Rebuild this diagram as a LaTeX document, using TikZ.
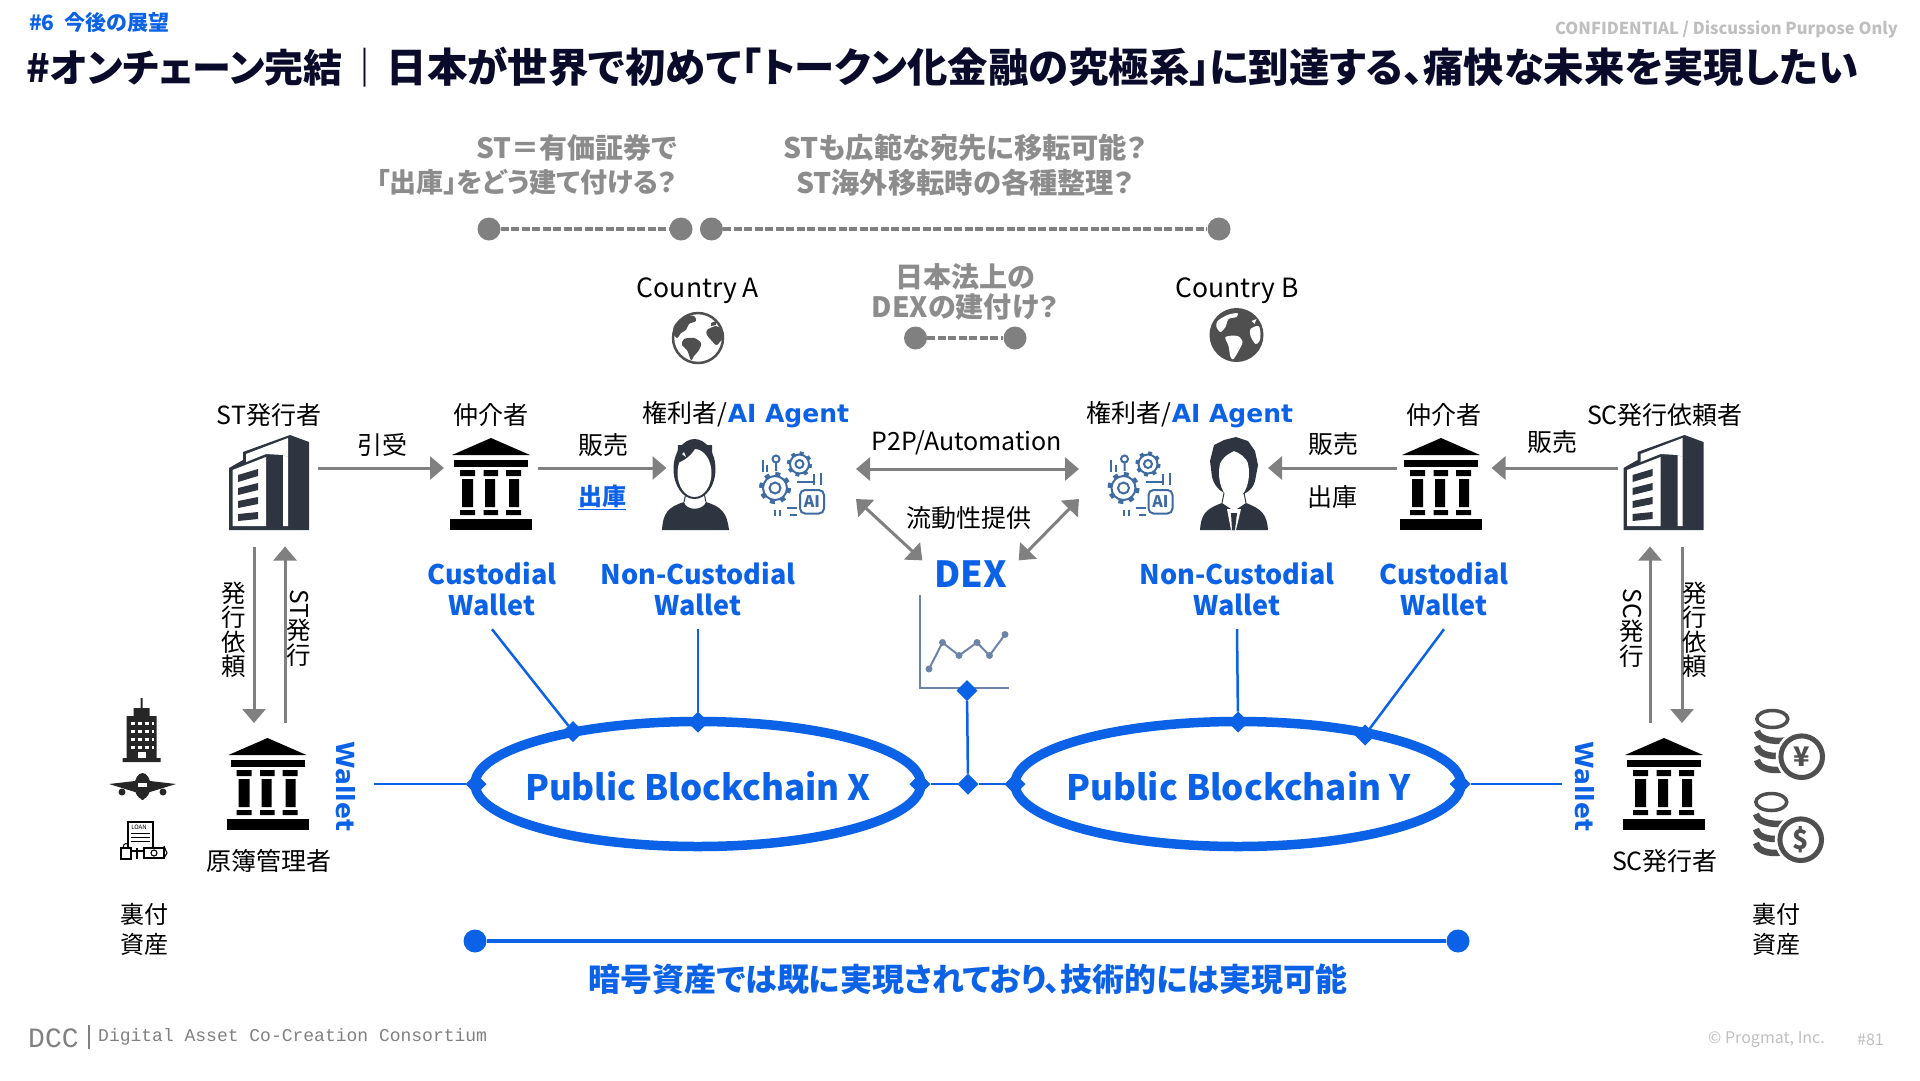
\documentclass[tikz,border=0pt]{standalone}
\usepackage{fontspec}
\usepackage{graphicx}
\setmainfont{Noto Sans CJK JP}[RawFeature=+palt]
\newfontfamily\widefont{DejaVu Sans}
\newfontfamily\footfont{Liberation Mono}
\usetikzlibrary{arrows.meta,positioning,shapes.geometric}
\definecolor{dcblue}{HTML}{0B62E6}
\definecolor{dcgrey}{HTML}{808080}
\definecolor{dcask}{HTML}{8C8C8C}
\definecolor{dcink}{HTML}{2E3540}
\definecolor{dcnavy}{HTML}{0A0A2A}
\definecolor{dcgear}{HTML}{3F6BA3}
\definecolor{dcaxis}{HTML}{6C84A8}
\definecolor{dccoin}{HTML}{4F4F4F}
\newcommand{\pxfont}[1]{\fontsize{#1}{\dimexpr#1pt*12/10\relax}\selectfont}

\begin{document}
\begin{tikzpicture}[
        x=1pt, y=-1pt,
        lbl/.style={inner sep=0, align=center, font=\pxfont{25}},
        stack/.style={lbl, font=\fontsize{24.5}{24.5}\selectfont},
        ask/.style={lbl, text=dcask, font=\pxfont{28.3}\bfseries},
        wlt/.style={lbl, text=dcblue, font=\fontsize{27}{31}\selectfont\bfseries, minimum height=80pt},
        sidewlt/.style={lbl, text=dcblue, rotate=-90, font=\pxfont{25}\widefont\bfseries},
        port/.style={inner sep=0, outer sep=0, minimum height=20pt},
        chain/.style={ellipse, draw=dcblue, line width=9.5pt, inner sep=0, minimum width=446pt,
                      minimum height=125pt},
        chaintext/.style={lbl, text=dcblue, font=\pxfont{35}\bfseries},
        dm/.style={diamond, fill=dcblue, inner sep=0, outer sep=0, minimum size=21pt},
        dot/.style={circle, fill=dcgrey, inner sep=0, minimum size=23pt},
        bluedot/.style={dot, fill=dcblue},
        arr/.style={-{Triangle[length=14pt,width=23pt]}, dcgrey, line width=3pt},
        darr/.style={{Triangle[length=14pt,width=23pt]}-{Triangle[length=14pt,width=23pt]}, dcgrey, line width=3pt},
        wire/.style={dcblue, line width=2.5pt},
        gap/.style={dcgrey, line width=3.5pt, dash pattern=on 8pt off 2.5pt},
        pics/bankicon/.style={code={
            \fill[black] (41,0) -- (2,17) -- (80,17) -- cycle;
            \fill[black] (4,22) rectangle (78,29);
            \fill[black] (10,32) rectangle (25,38) (33.5,32) rectangle (48,38) (56,32) rectangle (71,38);
            \fill[black] (12,41) rectangle (23,69) (35,41) rectangle (45,69) (59,41) rectangle (69,69);
            \fill[black] (10,72) rectangle (25,77) (33.5,72) rectangle (48,77) (56,72) rectangle (71,77);
            \fill[black] (0,81) rectangle (82,92);
        }},
        pics/bldicon/.style={code={
            \fill[dcink] (14,25) -- (14,17) -- (61,0) -- (80,7) -- (80,95) -- (0,95) -- (0,33) -- cycle;
            \fill[white] (17,19) -- (59,3) -- (59,22) -- (54,20) -- (37,19) -- (17,27) -- cycle;
            \fill[white] (3.5,35) -- (37,22) -- (37,91) -- (3.5,91) -- cycle;
            \fill[white] (54,20) -- (59,22) -- (59,91) -- (54,91) -- cycle;
            \fill[dcink] (9,40) -- (29,34) -- (29,41) -- (9,47) -- cycle;
            \fill[dcink] (9,53) -- (29,48) -- (29,55) -- (9,60) -- cycle;
            \fill[dcink] (9,66) -- (29,62) -- (29,69) -- (9,73) -- cycle;
            \fill[dcink] (9,79) -- (29,77) -- (29,84) -- (9,86) -- cycle;
        }},
        pics/womanicon/.style={code={
            \fill[dcink] (0,91) .. controls (1,74) and (6,68) .. (22,63) .. controls (24,72) and (41,72) .. (44,63)
                .. controls (60,68) and (65,74) .. (67,91) -- cycle;
            \draw[dcink, line width=1pt] (24,54) -- (22,63) (42,54) -- (44,63);
            \fill[dcink] (32.5,30) ellipse [x radius=21pt, y radius=30pt];
            \fill[white] (32.5,34) ellipse [x radius=17pt, y radius=24pt];
            \fill[dcink] (15,24) .. controls (22,22) and (30,16) .. (34,8) .. controls (42,12) and (48,18) .. (50,26)
                -- (50,6) -- (16,6) -- cycle;
            \fill[white] (20,15) -- (24,18) -- (22,13) -- cycle;
        }},
        pics/manicon/.style={code={
            \fill[dcink] (0,93) .. controls (1,78) and (5,72) .. (22,66) -- (34,74) -- (46,66)
                .. controls (62,72) and (67,78) .. (68,93) -- cycle;
            \fill[white] (27,72) -- (41,72) -- (36,93) -- (31,93) -- cycle;
            \fill[dcink] (31,76) -- (37,76) -- (35,93) -- (32,93) -- cycle;
            \draw[dcink, line width=1pt] (24,56) -- (22,66) (44,56) -- (46,66);
            \fill[dcink] (12,40) -- (10,24) -- (14,8) -- (24,3) -- (36,0) -- (48,4) -- (55,14) -- (58,28) -- (55,44)
                .. controls (50,64) and (18,64) .. (12,40) -- cycle;
            \fill[white] (34,36) ellipse [x radius=15pt, y radius=26pt];
            \fill[dcink] (19,28) .. controls (24,18) and (30,16) .. (34,14) .. controls (40,16) and (46,20) .. (49,28)
                -- (50,8) -- (18,8) -- cycle;
        }},
        pics/gearicon/.style={code={
            \draw[dcgear, line width=4pt, dash pattern=on 5pt off 6pt] (15,38) circle (14);
            \draw[dcgear, line width=2pt] (15,38) circle (12) (15,38) circle (5.5);
            \draw[dcgear, line width=3.5pt, dash pattern=on 4pt off 4.6pt] (39.5,14) circle (11);
            \draw[dcgear, line width=2pt] (39.5,14) circle (9.5) (39.5,14) circle (4);
            \draw[dcgear, line width=2pt] (16,9) circle (3.5) (16,13) -- (16,21);
            \draw[dcgear, line width=2pt] (2.7,10) -- (2.7,22) (7.3,15) -- (7.3,22);
            \draw[dcgear, line width=2pt, rounded corners=5pt] (40,40) rectangle (64,63.5);
            \node[inner sep=0, text=dcgear, font=\pxfont{16}\bfseries] (-ai) at (52,52) {AI};
            \draw[dcgear, line width=2pt] (37,32) -- (53,32) (54,24) -- (54,35) (61,23) -- (61,35);
            \draw[dcgear, line width=2pt] (15,60) -- (15,66) (20,60) -- (20,66) (27,58) -- (37,58) (30,65) -- (37,65);
        }},
        pics/lightglobe/.style={code={
            \draw[dccoin, line width=2.5pt, fill=white] (0,0) circle (25);
            \fill[dccoin] plot[smooth cycle, tension=0.5] coordinates {(-19,-18) (-12,-22) (-4,-22) (-2,-17) (-9,-14)
                (-12,-8) (-17,-5) (-21,0) (-25,-5) (-24,-12)};
            \fill[dccoin] plot[smooth cycle, tension=0.5] coordinates {(-14,1) (-4,0) (3,5) (1,12) (-4,18) (-7,22) (-11,12) (-16,7)};
            \fill[dccoin] plot[smooth cycle, tension=0.5] coordinates {(9,-8) (18,-12) (24,-8) (26,-2) (21,5) (18,7) (13,2) (9,-3)};
            \fill[dccoin] (13,-15) -- (18,-17) -- (18,-13) -- (13,-12) -- cycle;
        }},
        pics/darkglobe/.style={code={
            \fill[dccoin] (0,0) circle (27);
            \fill[white] plot[smooth cycle, tension=0.5] coordinates {(-19,-14) (-9,-20) (1,-22) (0,-18) (-8,-16) (-11,-8) (-16,-3) (-20,-8)};
            \fill[white] plot[smooth cycle, tension=0.5] coordinates {(-11,2) (1,1) (6,7) (2,16) (-3,24) (-6,22) (-8,11)};
            \fill[white] plot[smooth cycle, tension=0.5] coordinates {(14,-6) (22,-9) (24,-1) (23,6) (19,9) (14,1)};
            \fill[white] (15,-14) -- (20,-16) -- (18,-11) -- cycle;
        }},
        pics/coinicon/.style={code={
            \draw[dccoin, line width=3.5pt, fill=white] (17.3,13) ellipse [x radius=15.5pt, y radius=8.5pt];
            \draw[dccoin, line width=6.5pt] (2,25) .. controls (4,35) and (24,37) .. (38,33);
            \draw[dccoin, line width=6.5pt] (2,40) .. controls (4,50) and (20,52) .. (34,48);
            \draw[dccoin, line width=6.5pt] (2,54) .. controls (4,64) and (20,66) .. (34,62);
            \fill[white] (46.7,50.7) circle (26);
            \draw[dccoin, line width=5pt, fill=white] (46.7,50.7) circle (20.8);
            \node[inner sep=0, text=dccoin, font=\pxfont{27}\bfseries] (-sym) at (46.7,50.7) {#1};
        }},
        pics/officeicon/.style={code={
            \fill[black!85] (18,0) rectangle (20,10) (11,10) rectangle (27,18) (4,18) rectangle (34,60) (0,60) rectangle (38,64);
            \draw[white, line width=3pt, dash pattern=on 4pt off 3pt] (8,25) -- (31,25) (8,33) -- (31,33) (8,41) -- (31,41) (8,49) -- (31,49);
            \fill[white] (15,54) rectangle (23,60);
        }},
        pics/planeicon/.style={code={
            \fill[black!85] (0,11) -- (26,8) -- (41,8) -- (67,11) -- (41,19) -- (26,19) -- cycle;
            \fill[black!85] (33.5,13) ellipse [x radius=8pt, y radius=13pt];
            \fill[black!85] (13,19) circle (3.5) (54,19) circle (3.5) (33.5,25) circle (2);
            \fill[white] (29,10) rectangle (38,14);
        }},
        pics/loanicon/.style={code={
            \draw[black, line width=1.1pt, fill=white] (8,1) rectangle (33,30);
            \node[inner sep=0, font=\pxfont{6}] (-doc) at (19,6) {LOAN};
            \draw[black, line width=1pt] (11,12) -- (30,12) (11,16) -- (30,16) (11,20) -- (30,20);
            \draw[black, line width=1.1pt, fill=white] (1,27) rectangle (11,38) (17,27) -- (17,38) (24,27) rectangle (44,37);
            \draw[black, line width=1pt] (3,27) .. controls (3,21) and (9,21) .. (9,27);
            \draw[black, line width=1.1pt] (34,32) circle (3) (44,25) -- (47,32) -- (44,37);
        }},
    ]
    \useasboundingbox (0,0) rectangle (1920,1080);

    \node[lbl, anchor=west, text=dcblue, font=\pxfont{21}\bfseries] (section) at (29,22) {\#6\ \ 今後の展望};
    \node[lbl, anchor=east, text=black!25, font=\pxfont{16.5}\bfseries] (confid) at (1898,29) {CONFIDENTIAL / Discussion Purpose Only};
    \node[lbl, anchor=west, text=dcnavy, font=\pxfont{39}\bfseries] (headline) at (26,67)
        {\#オンチェーン完結\kern2.5pt｜\kern2.5pt\pxfont{40.4}日本が世界で初めて「トークン化金融の究極系」に到達する、痛快な未来を実現したい};

    \node[ask, anchor=east, font=\pxfont{28}\bfseries] (askA) at (677,148) {ST＝有価証券で};
    \node[ask, anchor=east, font=\pxfont{27}\bfseries] (askB) at (677,182.5) {「出庫」をどう建て付ける？};
    \node[ask] (askC) at (965,148) {STも広範な宛先に移転可能？};
    \node[ask] (askD) at (965,182.5) {ST海外移転時の各種整理？};
    \node[ask, font=\fontsize{28}{30}\selectfont\bfseries] (askE) at (965,292) {日本法上の\\DEXの建付け？};

    \node[dot] (gapA) at (489,229) {};
    \node[dot] (gapB) at (681,229) {};
    \node[dot, right=7pt of gapB] (gapC) {};
    \node[dot] (gapD) at (1219,229) {};
    \node[dot] (gapE) at (915.5,338) {};
    \node[dot] (gapF) at (1015,338) {};
    \draw[gap] (gapA) -- (gapB);
    \draw[gap] (gapC) -- (gapD);
    \draw[gap] (gapE) -- (gapF);

    \node[lbl, font=\pxfont{26.5}] (countryA) at (698,291) {Country A};
    \node[lbl, font=\pxfont{26.5}] (countryB) at (1237,291) {Country B};
    \pic at (698,338) {lightglobe};
    \pic at (1236.5,335) {darkglobe};

    \node[lbl] (tST) at (269,415) {ST発行者};
    \node[lbl] (tBrokerA) at (491,415) {仲介者};
    \node[lbl] (tHolderA) at (746,415) {権利者/{\widefont\bfseries\color{dcblue}AI Agent}};
    \node[lbl] (tHolderB) at (1190,415) {権利者/{\widefont\bfseries\color{dcblue}AI Agent}};
    \node[lbl] (tBrokerB) at (1444,415) {仲介者};
    \node[lbl] (tSC) at (1665,415) {SC発行依頼者};

    \node[port, minimum width=97pt, minimum height=157pt] (bldA) at (269,468) {};
    \node[port, minimum width=94pt] (bankA) at (491,468) {};
    \node[port, minimum width=60pt] (persA) at (696.5,468) {};
    \node[port, minimum width=126pt] (agentA) at (793,469) {};
    \node[port, minimum width=124pt] (agentB) at (1141,469) {};
    \node[port, minimum width=68pt] (persB) at (1234,468) {};
    \node[port, minimum width=95pt] (bankB) at (1444,468) {};
    \node[port, minimum width=94pt, minimum height=157pt] (bldB) at (1665,468) {};
    \node[port, minimum width=209pt, minimum height=122pt] (bankC) at (269,784) {};
    \node[port, minimum width=206pt, minimum height=122pt] (bankD) at (1665,784) {};

    \pic at (229,435) {bldicon};
    \pic at (450,438) {bankicon};
    \pic at (662,439) {womanicon};
    \pic (gearsA) at (760,450) {gearicon};
    \pic (gearsB) at (1108.5,450) {gearicon};
    \pic at (1200,437) {manicon};
    \pic at (1400,438) {bankicon};
    \pic at (1623.5,435) {bldicon};
    \pic at (226.5,738) {bankicon};
    \pic at (1623,738) {bankicon};

    \draw[arr] (bldA) -- (bankA);
    \draw[arr] (bankA) -- (persA);
    \draw[arr] (bankB) -- (persB);
    \draw[arr] (bldB) -- (bankB);
    \draw[darr] (agentA) -- (agentB);
    \draw[arr] ([xshift=-15pt]bldA.south) -- ([xshift=-15pt]bankC.north);
    \draw[arr] ([xshift=16pt]bankC.north) -- ([xshift=16pt]bldA.south);
    \draw[arr] ([xshift=-15pt]bankD.north) -- ([xshift=-15pt]bldB.south);
    \draw[arr] ([xshift=17pt]bldB.south) -- ([xshift=17pt]bankD.north);

    \node[lbl] (tTake) at (382,445) {引受};
    \node[lbl] (tSaleA) at (603,445) {販売};
    \node[lbl, text=dcblue, font=\pxfont{24}\bfseries] (tOutA) at (602,497) {\underline{出庫}};
    \node[lbl] (tSaleB) at (1333,444) {販売};
    \node[lbl] (tOutB) at (1332,497) {出庫};
    \node[lbl] (tSaleC) at (1552,442) {販売};
    \node[lbl] (tP2P) at (967,443) {P2P/Automation};
    \node[lbl] (tLiq) at (968.5,518) {流動性提供};

    \node[lbl, text=dcblue, font=\pxfont{36}\bfseries, minimum width=96pt] (dex) at (970.5,574) {DEX};
    \draw[darr] ([yshift=-30pt]agentA.east) -- (dex.north west);
    \draw[darr] ([yshift=-30pt]agentB.west) -- (dex.north east);

    \node[stack] (tReqA) at (234,630) {発\\行\\依\\頼};
    \node[stack] (tIssA) at (299,628) {\rotatebox{-90}{ST}\\発\\行};
    \node[stack] (tIssB) at (1632,628) {\rotatebox{-90}{SC}\\発\\行};
    \node[stack] (tReqB) at (1695,630) {発\\行\\依\\頼};

    \node[wlt] (wCustA) at (492,589) {Custodial\\Wallet};
    \node[wlt] (wSelfA) at (698,589) {Non-Custodial\\Wallet};
    \node[wlt] (wSelfB) at (1237,589) {Non-Custodial\\Wallet};
    \node[wlt] (wCustB) at (1444,589) {Custodial\\Wallet};
    \node[sidewlt] (wSideA) at (346,786.5) {Wallet};
    \node[sidewlt] (wSideB) at (1585,786.5) {Wallet};

    \draw[dcaxis, line width=2.5pt] (920,595) -- (920,688) -- (1009,688);
    \draw[dcaxis, line width=2pt] (929,669) -- (942.5,642.5) -- (959,655.5) -- (977,642.5) -- (989.5,655.5) -- (1005,634.5);
    \fill[dcaxis] (929,669) circle (3.5) (942.5,642.5) circle (3.5) (959,655.5) circle (3.5)
        (977,642.5) circle (3.5) (989.5,655.5) circle (3.5) (1005,634.5) circle (3.5);

    \node[chain] (chainX) at (698,784) {};
    \node[chain] (chainY) at (1238,784) {};
    \node[chaintext] (tChainX) at (698,786) {Public Blockchain X};
    \node[chaintext] (tChainY) at (1238.5,786) {Public Blockchain Y};
    \node[dm] (tipXw) at (476,784) {};
    \node[dm] (tipXe) at (920,784) {};
    \node[dm] (tipHub) at (968,784) {};
    \node[dm] (tipYw) at (1015,784) {};
    \node[dm] (tipYe) at (1460,784) {};
    \node[dm] (topXa) at (573,731.5) {};
    \node[dm] (topXb) at (698,722) {};
    \node[dm] (topYb) at (1238,722) {};
    \node[dm] (topYa) at (1365,735) {};
    \node[dm] (tipDex) at (967,690.5) {};

    \draw[wire] (bankC) -- (tipXw);
    \draw[wire] (tipXe) -- (tipHub);
    \draw[wire] (tipHub) -- (tipYw);
    \draw[wire] (tipYe) -- (bankD);
    \draw[wire] (tipHub) -- (tipDex);
    \draw[wire] (wCustA.south) -- (topXa);
    \draw[wire] (wSelfA.south) -- (topXb);
    \draw[wire] (wSelfB.south) -- (topYb);
    \draw[wire] (wCustB.south) -- (topYa);

    \node[lbl] (tLedger) at (269,861) {原簿管理者};
    \node[lbl] (tIssuer) at (1665,861) {SC発行者};
    \pic at (122.5,698) {officeicon};
    \pic at (109,773) {planeicon};
    \pic at (120,821) {loanicon};
    \pic (coinYen) at (1755,706) {coinicon={¥}};
    \pic (coinUsd) at (1754,789) {coinicon={\$}};
    \node[lbl, font=\fontsize{24}{30}\selectfont] (tAssetA) at (144.5,929) {裏付\\資産};
    \node[lbl, font=\fontsize{24}{30}\selectfont] (tAssetB) at (1776,929) {裏付\\資産};

    \node[bluedot] (spanA) at (475,941) {};
    \node[bluedot] (spanB) at (1458,941) {};
    \draw[dcblue, line width=4pt] (spanA) -- (spanB);
    \node[lbl, text=dcblue, font=\pxfont{32}\bfseries] (tSpan) at (968,979) {暗号資産では既に実現されており、技術的には実現可能};

    \node[lbl, anchor=west, text=black!50, font=\pxfont{28}\footfont] (tDcc) at (28,1038) {DCC};
    \draw[black!50, line width=1.2pt] (89,1025) -- (89,1049);
    \node[lbl, anchor=west, text=black!50, font=\pxfont{18}\footfont] (tDccLong) at (98,1037) {Digital Asset Co-Creation Consortium};
    \node[lbl, anchor=west, text=black!25, font=\pxfont{16}] (tCopy) at (1708,1040) {© Progmat, Inc.};
    \node[lbl, anchor=west, text=black!25, font=\pxfont{16}] (tPage) at (1857,1040) {\#81};
\end{tikzpicture}
\end{document}
